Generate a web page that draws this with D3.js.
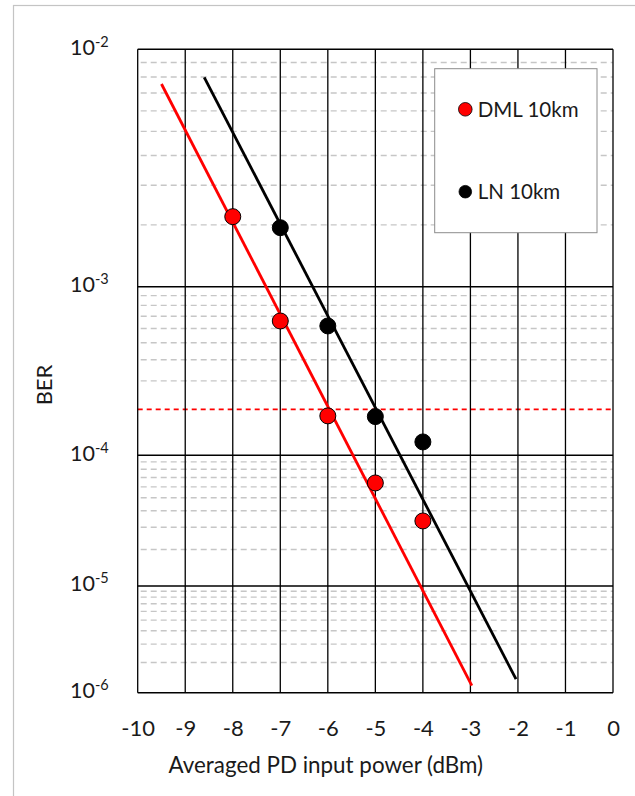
<!DOCTYPE html>
<html>
<head>
<meta charset="utf-8">
<script src="https://cdn.jsdelivr.net/npm/d3@7"></script>
<style>
  body { margin: 0; background: #fff; }
  svg { display: block; font-family: Lato, "Open Sans", sans-serif; }
</style>
</head>
<body>
<div id="chart"></div>
<script>
// data
var powerDML = [-8, -7, -6, -5, -4];
var berDML = [2.18e-3, 6.6e-4, 1.82e-4, 6.4e-5, 3.35e-5];
var powerLN = [-7, -6, -5, -4];
var berLN = [1.94e-3, 6.2e-4, 1.8e-4, 1.23e-4];

// fitted lines (end points)
var fitDMLPower = [-9.5, -2.97];
var fitDMLBer = [7.55e-3, 1.18e-6];
var fitLNPower = [-8.6, -2.04];
var fitLNBer = [7.98e-3, 1.37e-6];

var fecThreshold = 2e-4;

var xTicks = [-10, -9, -8, -7, -6, -5, -4, -3, -2, -1, 0];
var yExponents = [-2, -3, -4, -5, -6];
var seriesNames = ["DML 10km", "LN 10km"];
var seriesColors = ["#ff0000", "#000000"];

var W = 635, H = 796;
var margin = {top: 49.3, right: 22, bottom: 103.3, left: 137.7},
  width = W - margin.left - margin.right,
  height = H - margin.top - margin.bottom;

var svg = d3.select("#chart")
  .append("svg")
  .attr("width", W)
  .attr("height", H);

// chart area border (goes past window edge)
svg.append("rect")
  .attr("x", 13.5).attr("y", 5.5)
  .attr("width", 700).attr("height", 900)
  .attr("fill", "none")
  .attr("stroke", "#c4c4c4")
  .attr("stroke-width", 1.2);

var g = svg.append("g")
  .attr("transform", "translate(" + margin.left + "," + margin.top + ")");

var x = d3.scaleLinear().domain([-10, 0]).range([0, width]);
// BER axis: log of -log10(BER)
var yq = d3.scaleLog().domain([2, 6]).range([0, height]);
var y = function(b) { return yq(-Math.log10(b)); };

// minor grid (dashed)
var minor = [];
yExponents.slice(1).forEach(function(e) {
  for (var k = 2; k <= 9; k++) minor.push(k * Math.pow(10, e));
});
minor = minor.filter(function(v) { return Math.abs(v - fecThreshold) > 1e-9; });

g.selectAll(".minor")
  .data(minor)
  .enter()
  .append("line")
    .attr("x1", 0).attr("x2", width)
    .attr("y1", function(d) { return y(d); })
    .attr("y2", function(d) { return y(d); })
    .attr("stroke", "#c6c6c6")
    .attr("stroke-width", 1.4)
    .attr("stroke-dasharray", "6,4")
    .attr("stroke-dashoffset", -3);

// FEC threshold
g.append("line")
  .attr("x1", 0).attr("x2", width)
  .attr("y1", y(fecThreshold)).attr("y2", y(fecThreshold))
  .attr("stroke", "#ff0000")
  .attr("stroke-width", 1.6)
  .attr("stroke-dasharray", "5,4");

// major grid
g.selectAll(".vgrid")
  .data(xTicks)
  .enter()
  .append("line")
    .attr("x1", function(d) { return x(d); })
    .attr("x2", function(d) { return x(d); })
    .attr("y1", 0).attr("y2", height)
    .attr("stroke", "#000")
    .attr("stroke-width", 1.3);

g.selectAll(".hgrid")
  .data(yExponents)
  .enter()
  .append("line")
    .attr("x1", 0).attr("x2", width)
    .attr("y1", function(d) { return y(Math.pow(10, d)); })
    .attr("y2", function(d) { return y(Math.pow(10, d)); })
    .attr("stroke", "#000")
    .attr("stroke-width", 1.5);

// x axis labels
var xAxis = g.append("g")
  .attr("transform", "translate(0," + height + ")")
  .call(d3.axisBottom(x).tickValues(xTicks).tickSize(0)
    .tickFormat(function(d) { return d; }));
xAxis.select(".domain").remove();
xAxis.selectAll("text")
  .attr("y", 43)
  .attr("dy", null)
  .attr("font-size", "22px")
  .attr("font-family", "Lato, sans-serif")
  .attr("fill", "#1a1a1a");

// y axis labels 10^n
var yl = g.selectAll(".ylab")
  .data(yExponents)
  .enter()
  .append("text")
    .attr("x", -29)
    .attr("y", function(d) { return y(Math.pow(10, d)) + 5.5; })
    .attr("text-anchor", "end")
    .attr("fill", "#1a1a1a")
    .attr("font-size", "21.5px");
yl.append("tspan").text("10");
yl.append("tspan")
  .attr("dy", -8)
  .attr("font-size", "14.5px")
  .text(function(d) { return d; });

// axis titles
svg.append("text")
  .attr("x", 325.8)
  .attr("y", 773)
  .attr("text-anchor", "middle")
  .attr("font-size", "22.4px")
  .attr("fill", "#1a1a1a")
  .text("Averaged PD input power (dBm)");

svg.append("text")
  .attr("transform", "translate(52.3,385) rotate(-90)")
  .attr("text-anchor", "middle")
  .attr("font-size", "22px")
  .attr("fill", "#1a1a1a")
  .text("BER");

// fit lines
var line = d3.line()
  .x(function(d) { return x(d[0]); })
  .y(function(d) { return y(d[1]); });

g.append("path")
  .datum(d3.zip(fitDMLPower, fitDMLBer))
  .attr("d", line)
  .attr("fill", "none")
  .attr("stroke", seriesColors[0])
  .attr("stroke-width", 2.8);

g.append("path")
  .datum(d3.zip(fitLNPower, fitLNBer))
  .attr("d", line)
  .attr("fill", "none")
  .attr("stroke", seriesColors[1])
  .attr("stroke-width", 2.8);

// markers
g.selectAll(".dml")
  .data(d3.zip(powerDML, berDML))
  .enter()
  .append("circle")
    .attr("cx", function(d) { return x(d[0]); })
    .attr("cy", function(d) { return y(d[1]); })
    .attr("r", 8)
    .attr("fill", seriesColors[0])
    .attr("stroke", "#000")
    .attr("stroke-width", 1);

g.selectAll(".ln")
  .data(d3.zip(powerLN, berLN))
  .enter()
  .append("circle")
    .attr("cx", function(d) { return x(d[0]); })
    .attr("cy", function(d) { return y(d[1]); })
    .attr("r", 8)
    .attr("fill", seriesColors[1])
    .attr("stroke", "#000")
    .attr("stroke-width", 1);

// legend
var legend = svg.append("g").attr("transform", "translate(434.7,68.7)");
legend.append("rect")
  .attr("width", 162.3).attr("height", 164)
  .attr("fill", "#fff")
  .attr("stroke", "#8c8c8c")
  .attr("stroke-width", 1);

var items = legend.selectAll(".item")
  .data(seriesNames)
  .enter()
  .append("g")
    .attr("transform", function(d, i) { return "translate(0," + (40.6 + i * 82.4) + ")"; });
items.append("circle")
  .attr("cx", 30.6)
  .attr("r", function(d, i) { return i == 0 ? 6.8 : 6.3; })
  .attr("fill", function(d, i) { return seriesColors[i]; })
  .attr("stroke", "#000")
  .attr("stroke-width", 0.8);
items.append("text")
  .attr("x", 43)
  .attr("y", 7.5)
  .attr("font-size", "20.5px")
  .attr("fill", "#1a1a1a")
  .text(function(d) { return d; });
</script>
</body>
</html>
